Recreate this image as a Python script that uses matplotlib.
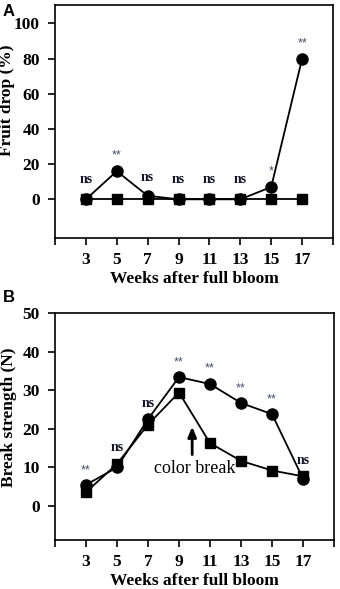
import matplotlib
matplotlib.use("Agg")
import matplotlib.pyplot as plt

weeks = [3, 5, 7, 9, 11, 13, 15, 17]

# Panel A: fruit drop (%)
drop_circle = [0, 16, 2, 0, 0, 0, 7, 80]
drop_square = [0, 0, 0, 0, 0, 0, 0, 0]
sig_a = ["ns", "**", "ns", "ns", "ns", "ns", "*", "**"]
sig_a_y = [7.5, 21.5, 8.5, 7.5, 7.5, 7.5, 12.5, 85]

# Panel B: break strength (N)
bs_circle = [5.5, 10.0, 22.5, 33.4, 31.6, 26.7, 23.8, 7.1]
bs_square = [3.6, 10.9, 21.1, 29.4, 16.3, 11.7, 9.2, 7.7]
sig_b = ["**", "ns", "ns", "**", "**", "**", "**", "ns"]
sig_b_y = [7.6, 13.5, 24.8, 35.6, 34.0, 29.0, 26.0, 10.0]

yticks_a = [0, 20, 40, 60, 80, 100]
yticks_b = [0, 10, 20, 30, 40, 50]

serif = ["Liberation Serif", "DejaVu Serif"]
sans = ["Liberation Sans", "DejaVu Sans"]
star_col = "#46506a"
ns_col = "#141428"

fig = plt.figure(figsize=(3.4, 5.89), dpi=100)
axA = fig.add_axes([55/340, 1-238/589, 278/340, 233/589])
axB = fig.add_axes([55/340, 1-540/589, 279/340, 227/589])


def style(ax, yticks, ylim, ylabel, lab_xy):
    ax.set_xlim(1, 19)
    ax.set_ylim(*ylim)
    ax.set_xticks([1, 3, 5, 7, 9, 11, 13, 15, 17, 19])
    ax.set_xticklabels([""] + [str(w) for w in weeks] + [""])
    ax.set_yticks(yticks)
    ax.set_yticklabels([str(v) for v in yticks])
    for lab in ax.get_xticklabels() + ax.get_yticklabels():
        lab.set_fontfamily(serif)
        lab.set_fontweight("bold")
        lab.set_fontsize(12.5)
    ax.tick_params(axis="both", direction="out", length=5, width=1.2)
    ax.tick_params(axis="y", pad=6)
    ax.tick_params(axis="x", pad=5)
    for s in ax.spines.values():
        s.set_linewidth(1.2)
    ax.set_xlabel("Weeks after full bloom", family=serif, fontweight="bold",
                  fontsize=12.5, labelpad=2)
    ax.set_ylabel(ylabel, family=serif, fontweight="bold", fontsize=12.5)
    ax.yaxis.set_label_coords(*lab_xy)


def sig(ax, labels, ys):
    for w, t, y in zip(weeks, labels, ys):
        if t == "ns":
            ax.text(w, y, t, ha="center", va="bottom", family=serif,
                    fontweight="bold", fontsize=10, color=ns_col)
        else:
            ax.text(w, y, t, ha="center", va="bottom", family=sans,
                    fontsize=9, color=star_col)


# Panel A
axA.plot(weeks, drop_square, color="black", lw=1.3, marker="s", ms=7.5, zorder=3)
axA.plot(weeks, drop_circle, color="black", lw=1.3, marker="o", ms=8, zorder=4)
style(axA, yticks_a, (-22, 110.5), "Fruit drop (%)", (-0.144, 0.592))
sig(axA, sig_a, sig_a_y)
fig.text(3/340, 1-11/589, "A", family=sans, fontweight="bold", fontsize=12,
         ha="left", va="center")

# Panel B
axB.plot(weeks, bs_square, color="black", lw=1.3, marker="s", ms=7.5, zorder=3)
axB.plot(weeks, bs_circle, color="black", lw=1.3, marker="o", ms=8, zorder=4)
style(axB, yticks_b, (-8.8, 50), "Break strength (N)", (-0.136, 0.542))
sig(axB, sig_b, sig_b_y)
axB.annotate("", xy=(9.85, 21.3), xytext=(9.85, 12.6),
             arrowprops=dict(arrowstyle="-|>,head_length=0.6,head_width=0.25",
                             color="black", lw=2))
axB.text(10.0, 9.6, "color break", ha="center", va="center", family=serif,
         fontsize=13)
fig.text(3/340, 1-297/589, "B", family=sans, fontweight="bold", fontsize=12,
         ha="left", va="center")

fig.savefig("out.png", dpi=100)
